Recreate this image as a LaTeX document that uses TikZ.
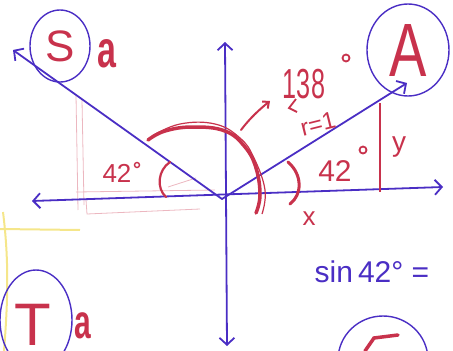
\documentclass[tikz,border=0pt]{standalone}
\usepackage{fontspec}
\setmainfont{Liberation Sans}
\usetikzlibrary{arrows.meta,shapes.geometric}
\definecolor{pen}{HTML}{4A2EC4}
\definecolor{ink}{HTML}{C8324C}
\definecolor{hl}{HTML}{F5E68A}
\begin{document}
\begin{tikzpicture}[x=1pt,y=-1pt,
  bluepen/.style={draw=pen, line width=1.8pt, line cap=round},
  barb/.style={-{Straight Barb[length=7pt,width=15pt,line width=1.8pt]}},
  redpen/.style={draw=ink, line width=3pt, line cap=round},
  faint/.style={draw=ink!35, line width=0.8pt},
  redtext/.style={text=ink, inner sep=0pt},
  loop/.style={draw=pen, ellipse, line width=1.4pt, inner sep=0pt}]
\useasboundingbox (0,0) rectangle (453,351);
\clip (0,0) rectangle (453,351);
% highlighter
\draw[hl, line width=2pt] (0,229) -- (80,230);
\draw[hl, line width=2pt] (3,212) .. controls (9,260) and (8,300) .. (4,351);
% faint construction lines
\draw[faint] (76,95) -- (78,210);
\draw[faint] (82,100) -- (84,205);
\draw[faint] (76,192) -- (215,190);
\draw[faint] (86,200) -- (87,214) -- (200,209);
\draw[faint] (168,187) -- (196,178);
% coordinates
\coordinate (O) at (222,199);
\coordinate (xL) at (32,201);
\coordinate (xR) at (443,187);
\coordinate (yT) at (225,42);
\coordinate (yB) at (227,346);
\coordinate (sTip) at (13,50);
\coordinate (aTip) at (407,83);
% axes
\draw[bluepen, {Straight Barb[length=7pt,width=15pt,line width=1.8pt]}-{Straight Barb[length=7pt,width=15pt,line width=1.8pt]}] (xL) -- (xR);
\draw[bluepen, {Straight Barb[length=7pt,width=15pt,line width=1.8pt]}-{Straight Barb[length=7pt,width=15pt,line width=1.8pt]}] (yT) -- (yB);
% vectors
\draw[bluepen, barb] (O) -- (sTip);
\draw[bluepen, barb] (O) -- (aTip);
% circled letters
\node[loop, minimum width=60pt, minimum height=72pt, text=ink, font=\fontsize{44}{44}\selectfont] (S) at (60,46) {S};
\node[redtext, font=\fontsize{40}{40}\selectfont\bfseries] (Sa) at (107,54) {\scalebox{0.85}[1.3]{a}};
\node[loop, minimum width=82pt, minimum height=92pt, text=ink, font=\fontsize{56}{56}\selectfont] (A) at (408,50) {\scalebox{1}[1.35]{A}};
\node[loop, minimum width=72pt, minimum height=100pt] (Tc) at (36,320) {};
\node[redtext, font=\fontsize{60}{60}\selectfont, anchor=north] (T) at (33,304) {T};
\node[redtext, font=\fontsize{30}{30}\selectfont\bfseries] (Ta) at (83,326) {\scalebox{1}[1.6]{a}};
\node[loop, minimum width=90pt, minimum height=88pt] (Fc) at (383,360) {};
\draw[redpen, line width=3.5pt] (398,335) -- (374,338) -- (365,351);
% right triangle side
\draw[draw=ink, line width=1.3pt] (380,103) -- (380,192);
% big 138 arc
\draw[redpen, line width=3.5pt] plot[smooth, tension=0.7] coordinates {(148,140) (165,131) (193,127) (225,131) (245,147) (256,168) (260,195) (256,213)};
\draw[draw=ink, line width=1.2pt] plot[smooth, tension=0.7] coordinates {(152,136) (180,124) (215,124) (240,138) (254,158) (265,190) (262,214)};
% small angle arcs
\draw[redpen] (288,162) .. controls (303,175) and (302,195) .. (290,204);
\draw[redpen, line width=2.2pt] (170,162) .. controls (158,170) and (156,188) .. (166,197);
% arrow to 138
\draw[redpen, line width=2pt, -{Straight Barb[length=5pt,width=9pt,line width=2pt]}] (241,130) .. controls (250,118) and (260,109) .. (270,101);
% labels
\node[redtext, font=\fontsize{42}{42}\selectfont] (n138) at (304,84) {\scalebox{0.6}[1]{138}};
\draw[ink, line width=1.8pt] (346,58) circle (3.5pt);
\node[redtext, font=\fontsize{24}{24}\selectfont, rotate=14] (r1) at (318,124) {r=1};
\draw[ink, line width=1.8pt] (296,99) -- (289,108) -- (297,112);
\node[redtext, font=\fontsize{30}{30}\selectfont] (a42r) at (335,171) {42};
\draw[ink, line width=1.8pt] (363,150) circle (3.5pt);
\node[redtext, font=\fontsize{28}{28}\selectfont] (y) at (399,147) {y};
\node[redtext, font=\fontsize{26}{26}\selectfont] (x) at (309,219) {x};
\node[redtext, font=\fontsize{26}{26}\selectfont] (a42l) at (117,173) {42};
\draw[ink, line width=1.4pt] (137,165) circle (2.5pt);
\node[text=pen, inner sep=0pt, font=\fontsize{30}{30}\selectfont] (sin) at (372,272) {sin\,42\textdegree\ =};
\end{tikzpicture}
\end{document}
